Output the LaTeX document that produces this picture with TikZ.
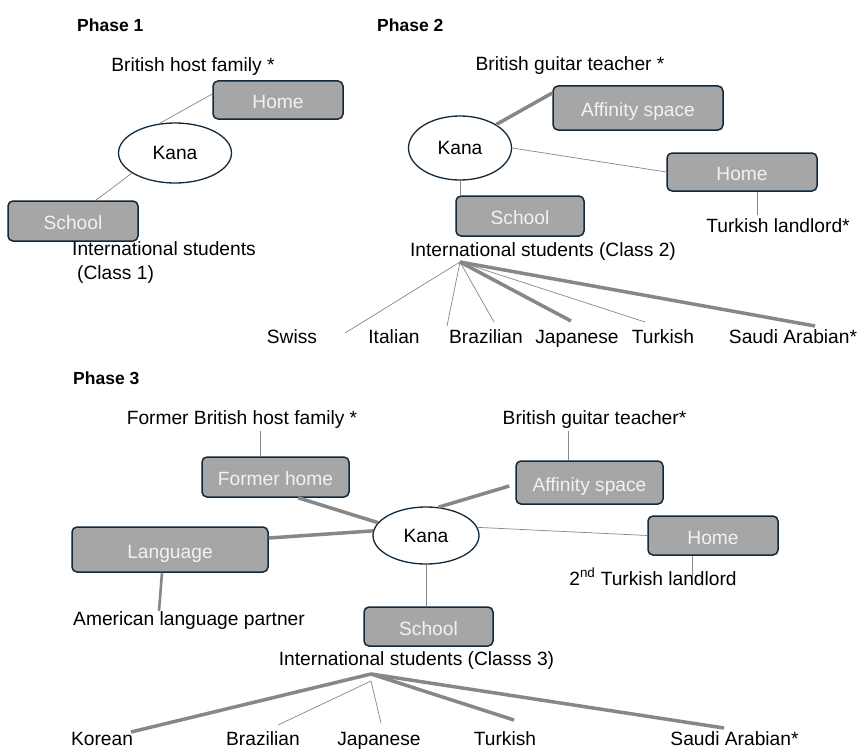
\documentclass[tikz,border=0pt]{standalone}
\usepackage{fontspec}
\setmainfont{Liberation Sans}
\usetikzlibrary{shapes.geometric}

\definecolor{navy}{HTML}{10293D}
\definecolor{boxgray}{HTML}{A6A6A6}
\definecolor{boxtext}{HTML}{F2F2F2}
\definecolor{linegray}{HTML}{878787}

\newcommand{\lblfont}{\fontsize{19.2}{25}\selectfont}
\newcommand{\phasefont}{\fontsize{17.5}{21}\selectfont\bfseries}

\tikzset{
  place/.style={draw=navy, line width=1.5pt, fill=boxgray, rounded corners=5pt, text=boxtext, inner sep=0pt, font=\lblfont, text height=17pt, text depth=0pt},
  self/.style={ellipse, draw=navy, line width=1.3pt, fill=white, inner sep=0pt, font=\lblfont},
  lbl/.style={inner sep=0pt, anchor=base, font=\lblfont, text height=14pt, text depth=4pt},
  phase/.style={inner sep=0pt, anchor=base west, font=\phasefont},
  weak/.style={linegray, line width=0.7pt},
  strong/.style={linegray, line width=3.5pt},
}

\begin{document}
\begin{tikzpicture}[x=1pt, y=-1pt]
    \useasboundingbox[fill=white] (0,0) rectangle (858,749);

    % Phase 1
    \node[phase] (p1title) at (77,32) {Phase 1};
    \node[lbl] (p1family) at (193,72) {British host family *};
    \node[place, minimum width=130pt, minimum height=38pt] (p1home) at (278,100) {Home};
    \node[self, minimum width=113pt, minimum height=60pt] (p1kana) at (175,153) {Kana};
    \node[place, minimum width=130pt, minimum height=40pt] (p1school) at (73,221) {School};
    \node[lbl, anchor=base west] (p1students) at (72,255) {International students};
    \node[lbl, anchor=base west] (p1class) at (77,279) {(Class 1)};

    \draw[weak] ([yshift=6pt]p1home.west) -- (p1kana.118);
    \draw[weak] (p1kana.205) -- ([xshift=23pt]p1school.north);

    % Phase 2
    \node[phase] (p2title) at (377,32) {Phase 2};
    \node[lbl] (p2teacher) at (570,71) {British guitar teacher *};
    \node[place, minimum width=170pt, minimum height=44pt] (p2aff) at (638,108) {Affinity space};
    \node[self, minimum width=103pt, minimum height=64pt] (p2kana) at (460,148) {Kana};
    \node[place, minimum width=150pt, minimum height=38pt] (p2home) at (742,172) {Home};
    \node[lbl] (p2landlord) at (778,232) {Turkish landlord*};
    \node[place, minimum width=128pt, minimum height=40pt] (p2school) at (520,216) {School};
    \node[lbl] (p2students) at (543,256) {International students (Class 2)};

    \node[lbl] (p2swiss) at (292,343) {Swiss};
    \node[lbl] (p2italian) at (394,343) {Italian};
    \node[lbl] (p2brazilian) at (486,343) {Brazilian};
    \node[lbl] (p2japanese) at (577,343) {Japanese};
    \node[lbl] (p2turkish) at (663,343) {Turkish};
    \node[lbl] (p2saudi) at (793,343) {Saudi Arabian*};

    \draw[strong] (p2kana.33) -- ([yshift=15pt]p2aff.west);
    \draw[weak] (p2kana.east) -- (p2home.west);
    \draw[weak] ([xshift=15pt]p2home.south) -- ([xshift=15pt,yshift=3pt]p2home.south |- p2landlord.north);
    \draw[weak] (p2kana.south) -- (p2kana.south |- p2school.north);

    \coordinate (p2fan) at (460,262);
    \coordinate (p2swissend) at (345,333);
    \coordinate (p2italianend) at (447,326);
    \coordinate (p2brazilianend) at (494,322);
    \coordinate (p2japaneseend) at (571,321);
    \coordinate (p2turkishend) at (645,322);
    \coordinate (p2saudiend) at (815,326);
    \draw[weak] (p2fan) -- (p2swissend);
    \draw[weak] (p2fan) -- (p2italianend);
    \draw[weak] (p2fan) -- (p2brazilianend);
    \draw[strong] (p2fan) -- (p2japaneseend);
    \draw[weak] (p2fan) -- (p2turkishend);
    \draw[strong] (p2fan) -- (p2saudiend);

    % Phase 3
    \node[phase] (p3title) at (73,384) {Phase 3};
    \node[lbl] (p3family) at (242,424) {Former British host family *};
    \node[lbl] (p3teacher) at (594.5,424) {British guitar teacher*};
    \node[place, minimum width=147pt, minimum height=40pt] (p3former) at (275.5,477) {Former home};
    \node[place, minimum width=147pt, minimum height=43pt] (p3aff) at (589.5,482.5) {Affinity space};
    \node[place, minimum width=196pt, minimum height=45pt] (p3lang) at (170,549.5) {Language};
    \node[self, minimum width=106pt, minimum height=57pt] (p3kana) at (426,535.5) {Kana};
    \node[place, minimum width=130pt, minimum height=39pt] (p3home) at (713,535.5) {Home};
    \node[lbl] (p3landlord) at (653,585) {2\textsuperscript{nd} Turkish landlord};
    \node[lbl, anchor=base west] (p3partner) at (73,625) {American language partner};
    \node[place, minimum width=129pt, minimum height=39pt] (p3school) at (428.5,626.5) {School};
    \node[lbl] (p3students) at (416.5,665) {International students (Classs 3)};

    \node[lbl] (p3korean) at (102,745) {Korean};
    \node[lbl] (p3brazilian) at (263,745) {Brazilian};
    \node[lbl] (p3japanese) at (379,745) {Japanese};
    \node[lbl] (p3turkish) at (505,745) {Turkish};
    \node[lbl] (p3saudi) at (734.5,745) {Saudi Arabian*};

    \draw[weak] ([xshift=-15.5pt]p3former.north) -- ([xshift=-15.5pt,yshift=-3pt]p3former.north |- p3family.south);
    \draw[strong] ([xshift=22.5pt]p3former.south) -- (p3kana.165);
    \draw[strong] ([yshift=11.5pt]p3lang.east) -- (p3kana.175);
    \draw[line width=2.6pt, linegray] ([xshift=-8pt]p3lang.south) -- ([xshift=-11pt]p3lang.south |- p3partner.north);
    \draw[weak] (p3kana.south) -- (p3kana.south |- p3school.north);
    \draw[weak] ([xshift=-21.5pt]p3aff.north) -- ([xshift=-21.5pt,yshift=-3pt]p3aff.north |- p3teacher.south);
    \draw[strong] ([xshift=-6pt,yshift=-3.5pt]p3aff.west) -- (p3kana.66);
    \draw[weak] (p3kana.9) -- (p3home.west);
    \draw[weak] ([xshift=-21pt]p3home.south) -- ([xshift=-21pt,yshift=-5pt]p3home.south |- p3landlord.north);

    \coordinate (p3fan) at (371,674);
    \coordinate (p3fanlow) at (371,681);
    \coordinate (p3koreanend) at (131,732);
    \coordinate (p3brazilianend) at (278,725);
    \coordinate (p3japaneseend) at (381,723);
    \coordinate (p3turkishend) at (514,720);
    \coordinate (p3saudiend) at (724,728);
    \draw[strong] (p3fan) -- (p3koreanend);
    \draw[weak] (p3fanlow) -- (p3brazilianend);
    \draw[weak] (p3fanlow) -- (p3japaneseend);
    \draw[strong] (p3fan) -- (p3turkishend);
    \draw[strong] (p3fan) -- (p3saudiend);
\end{tikzpicture}
\end{document}
